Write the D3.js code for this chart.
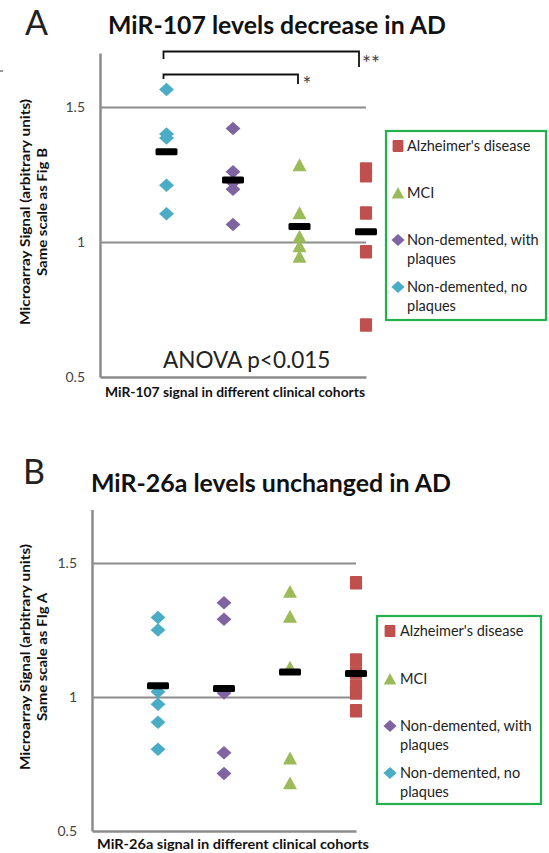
<!DOCTYPE html>
<html><head><meta charset="utf-8">
<script src="https://cdn.jsdelivr.net/npm/d3@7"></script>
<style>body{margin:0;background:#fff}svg{display:block}</style>
</head><body>
<script>
// ---- data ----
const categories = ["Non-demented, no plaques","Non-demented, with plaques","MCI","Alzheimer's disease"];
const legendLabels = ["Alzheimer's disease","MCI","Non-demented, with plaques","Non-demented, no plaques"];
const tickValues = [0.5, 1, 1.5];

const mir107_noPlaques   = [1.565, 1.40, 1.385, 1.21, 1.105];
const mir107_withPlaques = [1.42, 1.26, 1.22, 1.195, 1.065];
const mir107_mci         = [1.285, 1.107, 1.02, 0.985, 0.946];
const mir107_ad          = [1.27, 1.245, 1.107, 0.964, 0.693];
const mir107_means       = [1.334, 1.23, 1.057, 1.038];

const mir26a_noPlaques   = [1.297, 1.25, 1.02, 0.973, 0.906, 0.805];
const mir26a_withPlaques = [1.352, 1.29, 1.015, 0.792, 0.715];
const mir26a_mci         = [1.393, 1.30, 1.11, 0.771, 0.678];
const mir26a_ad          = [1.426, 1.138, 1.09, 1.04, 1.015, 0.949];
const mir26a_means       = [1.042, 1.032, 1.093, 1.088];

const colors = {noP:"#4bacc6", withP:"#8064a2", mci:"#9bbb59", ad:"#c0504d"};
const FONT = "Lato, 'Open Sans', sans-serif";

const svg = d3.select("body").append("svg").attr("width",549).attr("height",853)
  .style("font-family", FONT);

function marker(g, shape, color, cx, cy, s){
  if(shape==="diamond"){
    g.append("path").attr("d",`M${cx},${cy-s*0.5}L${cx+s*0.55},${cy}L${cx},${cy+s*0.5}L${cx-s*0.55},${cy}Z`).attr("fill",color);
  } else if(shape==="triangle"){
    g.append("path").attr("d",`M${cx},${cy-s*0.5}L${cx+s*0.52},${cy+s*0.45}L${cx-s*0.52},${cy+s*0.45}Z`).attr("fill",color);
  } else {
    g.append("rect").attr("x",cx-s*0.45).attr("y",cy-s*0.5).attr("width",s*0.9).attr("height",s).attr("rx",1).attr("fill",color);
  }
}

function panel(cfg){
  const g = svg.append("g");
  const x = d3.scaleLinear().domain([0,4]).range([cfg.x0, cfg.x1]);
  const y = d3.scaleLinear().domain([0.5,1.7]).range([cfg.yBottom, cfg.yTop]);

  // panel letter & title
  g.append("text").attr("x",cfg.letterX).attr("y",cfg.letterY).text(cfg.letter)
    .attr("font-size",34).attr("font-weight",400).attr("fill","#222");
  g.append("text").attr("x",cfg.titleX).attr("y",cfg.titleY).text(cfg.title)
    .attr("font-size",24).attr("font-weight",700).attr("fill","#111")
    .attr("textLength",cfg.titleW).attr("lengthAdjust","spacingAndGlyphs");

  // gridlines
  const grid = g.append("g").attr("transform",`translate(${cfg.x0},0)`)
    .call(d3.axisRight(y).tickValues([1,1.5]).tickSize(cfg.x1-cfg.x0).tickFormat(""));
  grid.select(".domain").remove();
  grid.selectAll(".tick line").attr("stroke","#8c8c8c").attr("stroke-width",2.2);

  // left axis
  const ax = g.append("g").attr("transform",`translate(${cfg.x0},0)`)
    .call(d3.axisLeft(y).tickValues(tickValues).tickSize(0).tickPadding(15).tickFormat(d3.format("~g")));
  ax.select(".domain").attr("stroke","#8c8c8c").attr("stroke-width",2.5);
  ax.selectAll("text").attr("font-size",14).attr("fill","#444").attr("font-family",FONT);
  // bottom axis
  const bx = g.append("g").attr("transform",`translate(0,${cfg.yBottom})`)
    .call(d3.axisBottom(x).tickValues([]).tickSizeOuter(0));
  bx.select(".domain").attr("stroke","#8c8c8c").attr("stroke-width",2.5);

  // axis titles
  const yl = g.append("text").attr("transform",`translate(${cfg.ylabX},${cfg.ylabY}) rotate(-90)`)
    .attr("text-anchor","middle").attr("font-size",13).attr("font-weight",700).attr("fill","#111");
  yl.append("tspan").attr("x",0).attr("dy",0).text("Microarray Signal  (arbitrary units)")
    .attr("textLength",226).attr("lengthAdjust","spacingAndGlyphs");
  yl.append("tspan").attr("x",0).attr("dy",17).text(cfg.ylab2)
    .attr("textLength",128).attr("lengthAdjust","spacingAndGlyphs");
  g.append("text").attr("x",cfg.xlabX).attr("y",cfg.xlabY).text(cfg.xlab)
    .attr("font-size",13).attr("font-weight",700).attr("fill","#111")
    .attr("textLength",cfg.xlabW).attr("lengthAdjust","spacingAndGlyphs");

  // points
  const series = [
    {vals:cfg.data[0], shape:"diamond", color:colors.noP},
    {vals:cfg.data[1], shape:"diamond", color:colors.withP},
    {vals:cfg.data[2], shape:"triangle", color:colors.mci},
    {vals:cfg.data[3], shape:"square", color:colors.ad}
  ];
  const pts = g.append("g");
  series.forEach((s,i)=>{
    s.vals.forEach(v=> marker(pts, s.shape, s.color, x(i+1), y(v), 13.5));
  });
  // mean bars
  g.append("g").selectAll("rect").data(cfg.means).join("rect")
    .attr("x",(d,i)=>x(i+1)-11).attr("y",d=>y(d)-3.5)
    .attr("width",22).attr("height",7).attr("rx",1.5).attr("fill","#000");

  // legend
  const lg = g.append("g");
  lg.append("rect").attr("x",cfg.lg.x).attr("y",cfg.lg.y).attr("width",cfg.lg.w).attr("height",cfg.lg.h)
    .attr("fill","#fff").attr("stroke","#22b14c").attr("stroke-width",2.2);
  const lshapes = ["square","triangle","diamond","diamond"];
  const lcolors = [colors.ad, colors.mci, colors.withP, colors.noP];
  const lines = [["Alzheimer's disease"],["MCI"],["Non-demented, with","plaques"],["Non-demented, no","plaques"]];
  cfg.lg.rows.forEach((ry,i)=>{
    marker(lg, lshapes[i], lcolors[i], cfg.lg.mx, ry, 12);
    const t = lg.append("text").attr("x",cfg.lg.tx).attr("y",ry+5).attr("font-size",14.5).attr("fill","#222");
    lines[i].forEach((ln,j)=> t.append("tspan").attr("x",cfg.lg.tx).attr("dy",j?18.5:0).text(ln));
  });
  return {g,x,y};
}

// Panel A
const A = panel({
  letter:"A", letterX:25, letterY:35, title:"MiR-107 levels decrease in AD", titleX:108, titleY:34, titleW:338,
  x0:100, x1:366, yTop:53, yBottom:377,
  ylabX:30, ylabY:212, ylab2:"Same scale  as Fig B",
  xlab:"MiR-107 signal  in different clinical  cohorts", xlabX:105, xlabY:397, xlabW:260,
  data:[mir107_noPlaques, mir107_withPlaques, mir107_mci, mir107_ad], means:mir107_means,
  lg:{x:386, y:131, w:160, h:189, mx:398, tx:407, rows:[146,193,240,287]}
});
// ANOVA + significance brackets
A.g.append("text").attr("x",163).attr("y",368).text("ANOVA p<0.015")
  .attr("font-size",22.5).attr("fill","#222");
const br = A.g.append("g").attr("fill","none").attr("stroke","#111").attr("stroke-width",1.8);
br.append("path").attr("d",`M${A.x(1)-3},59V51.5H${A.x(4)-7}V67`);
br.append("path").attr("d",`M${A.x(1)-3},79V74.5H${A.x(3)-1.5}V84`);
A.g.append("text").attr("x",A.x(4)-4).attr("y",71).text("**").attr("font-size",21).attr("fill","#444");
A.g.append("text").attr("x",A.x(3)+3).attr("y",92).text("*").attr("font-size",21).attr("fill","#444");
svg.append("line").attr("x1",0).attr("x2",3).attr("y1",71).attr("y2",71).attr("stroke","#333").attr("stroke-width",1);

// Panel B
panel({
  letter:"B", letterX:23, letterY:484, title:"MiR-26a levels unchanged in AD", titleX:91, titleY:492, titleW:360,
  x0:92, x1:356, yTop:509.4, yBottom:831,
  ylabX:30, ylabY:657, ylab2:"Same scale  as FIg A",
  xlab:"MiR-26a signal  in different clinical  cohorts", xlabX:97, xlabY:849, xlabW:272,
  data:[mir26a_noPlaques, mir26a_withPlaques, mir26a_mci, mir26a_ad], means:mir26a_means,
  lg:{x:377, y:616, w:164, h:188, mx:390, tx:400, rows:[631,679,726,773]}
});
</script>
</body></html>
